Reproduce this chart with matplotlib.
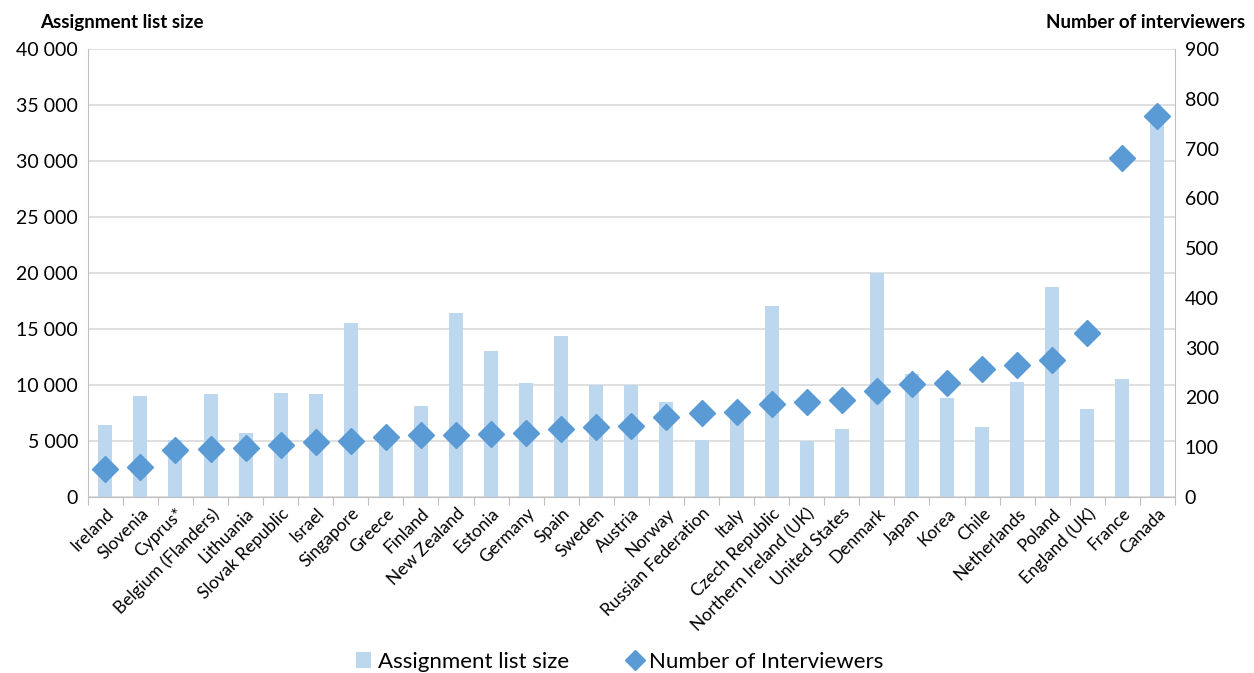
import matplotlib
matplotlib.use("Agg")
import matplotlib.pyplot as plt
from matplotlib.ticker import FuncFormatter, MultipleLocator
from matplotlib.lines import Line2D
from matplotlib.patches import Patch
import numpy as np

countries = ["Ireland", "Slovenia", "Cyprus*", "Belgium (Flanders)", "Lithuania",
             "Slovak Republic", "Israel", "Singapore", "Greece", "Finland",
             "New Zealand", "Estonia", "Germany", "Spain", "Sweden", "Austria",
             "Norway", "Russian Federation", "Italy", "Czech Republic",
             "Northern Ireland (UK)", "United States", "Denmark", "Japan", "Korea",
             "Chile", "Netherlands", "Poland", "England (UK)", "France", "Canada"]

assignment = [6400, 9000, 5100, 9200, 5700, 9300, 9200, 15500, 5000, 8100,
              16400, 13000, 10200, 14400, 10000, 10000, 8500, 5100, 7600, 17100,
              5000, 6100, 20000, 11000, 8800, 6250, 10250, 18750, 7900, 10500, 34000]

interviewers = [56, 60, 94, 96, 98, 104, 110, 113, 120, 124,
                124, 126, 129, 137, 140, 143, 160, 168, 170, 186,
                190, 194, 214, 227, 229, 257, 265, 275, 329, 681, 766]

plt.rcParams['font.family'] = ['Lato', 'DejaVu Sans']

bar_color = "#BDD7EE"
mk_color = "#5B9BD5"
grid_color = "#D9D9D9"
axis_color = "#BFBFBF"

fig = plt.figure(figsize=(12.54, 6.73), dpi=100)
ax = fig.add_axes([0.070, 0.2615, 0.867, 0.6655])
ax2 = ax.twinx()

x = np.arange(len(countries))
ax.bar(x, assignment, width=0.4, color=bar_color, zorder=2)
ax2.plot(x, interviewers, linestyle='none', marker='D', markersize=13,
         color=mk_color, zorder=3)

ax.set_xlim(-0.5, len(countries) - 0.5)
ax.set_ylim(0, 40000)
ax2.set_ylim(0, 900)
ax.yaxis.set_major_locator(MultipleLocator(5000))
ax2.yaxis.set_major_locator(MultipleLocator(100))
ax.yaxis.set_major_formatter(FuncFormatter(lambda v, p: f"{int(v):,}".replace(",", " ")))

ax.grid(axis='y', color=grid_color, linewidth=1.2, zorder=0)
ax.set_axisbelow(True)

for a in (ax, ax2):
    a.spines['top'].set_visible(False)
    a.spines['left'].set_color(axis_color)
    a.spines['right'].set_color(axis_color)
    a.spines['bottom'].set_color(axis_color)
ax2.spines['left'].set_visible(False)
ax2.spines['bottom'].set_visible(False)
ax.spines['right'].set_visible(False)

ax.tick_params(axis='y', length=0, labelsize=14, labelcolor="#000000", pad=7)
ax2.tick_params(axis='y', length=0, labelsize=14, labelcolor="#000000", pad=7)

# x ticks at category boundaries, labels at centers
ax.set_xticks(np.arange(-0.5, len(countries) + 0.5, 1))
ax.set_xticklabels([])
ax.set_xticks(x, minor=True)
ax.set_xticklabels(countries, minor=True, rotation=45, ha='right',
                   rotation_mode='anchor', fontsize=12.5)
ax.tick_params(axis='x', which='major', length=6, color=axis_color, direction='out')
ax.tick_params(axis='x', which='minor', length=0, pad=6)

fig.text(0.032, 0.967, "Assignment list size", fontsize=13.5, fontweight='bold',
         ha='left', va='center')
fig.text(0.993, 0.967, "Number of interviewers", fontsize=13.5, fontweight='bold',
         ha='right', va='center')

handles = [Patch(facecolor=bar_color, edgecolor='none', label="Assignment list size"),
           Line2D([], [], linestyle='none', marker='D', markersize=10, color=mk_color,
                  label="Number of Interviewers")]
fig.legend(handles=handles, loc='center', bbox_to_anchor=(0.494, 0.017), ncol=2,
           frameon=False, fontsize=16, handlelength=0.7, handleheight=0.7,
           handletextpad=0.3, columnspacing=2.6)

fig.savefig("out.png", dpi=100)
